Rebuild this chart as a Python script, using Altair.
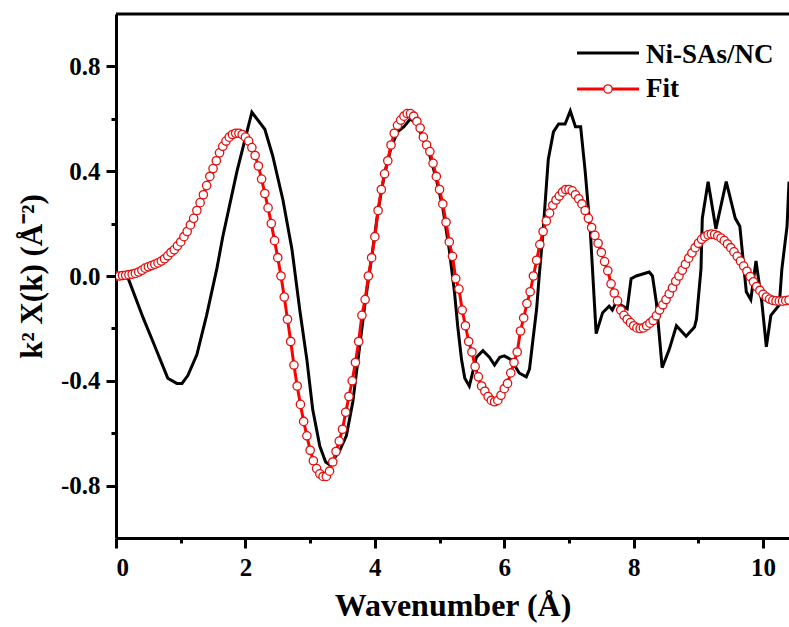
import altair as alt
import pandas as pd

# ---- data ----
data_k = [0, 0.19, 0.42, 0.57, 0.80, 0.94, 1.02, 1.11, 1.25, 1.40, 1.56, 1.65, 1.87, 2.10, 2.30, 2.42,
          2.58, 2.72, 2.84, 2.95, 3.04, 3.15, 3.24, 3.30, 3.45, 3.56, 3.66, 3.75, 3.85, 3.95, 4.05, 4.15,
          4.25, 4.35, 4.45, 4.55, 4.65, 4.75, 4.85, 4.95, 5.05, 5.15, 5.23, 5.28, 5.34, 5.39, 5.46, 5.57,
          5.67, 5.77, 5.85, 5.93, 6.00, 6.11, 6.23, 6.34, 6.39, 6.44, 6.50, 6.54, 6.60, 6.68, 6.76, 6.84,
          6.94, 7.02, 7.10, 7.18, 7.25, 7.33, 7.42, 7.52, 7.62, 7.67, 7.73, 7.90, 7.96, 8.04, 8.24, 8.29,
          8.35, 8.44, 8.55, 8.66, 8.81, 8.94, 8.97, 9.04, 9.06, 9.15, 9.27, 9.43, 9.57, 9.64, 9.74, 9.81,
          9.89, 9.98, 10.05, 10.12, 10.25, 10.29, 10.37, 10.40]
data_v = [0, -0.01, -0.16, -0.25, -0.39, -0.41, -0.41, -0.38, -0.30, -0.15, 0.03, 0.15, 0.40, 0.625, 0.56, 0.46,
          0.29, 0.10, -0.13, -0.32, -0.51, -0.65, -0.71, -0.72, -0.67, -0.61, -0.48, -0.30, -0.10, 0.07, 0.25, 0.39,
          0.49, 0.55, 0.57, 0.60, 0.58, 0.52, 0.46, 0.37, 0.26, 0.10, -0.06, -0.19, -0.32, -0.39, -0.42, -0.31,
          -0.285, -0.31, -0.34, -0.31, -0.305, -0.32, -0.37, -0.385, -0.355, -0.25, -0.125, 0.0, 0.17, 0.445, 0.55, 0.58,
          0.58, 0.63, 0.57, 0.57, 0.40, 0.17, -0.22, -0.14, -0.115, -0.13, -0.10, -0.125, -0.01, 0.0, 0.015, 0.0,
          -0.10, -0.35, -0.28, -0.19, -0.23, -0.195, -0.165, 0.027, 0.22, 0.36, 0.18, 0.36, 0.22, 0.19, -0.06, -0.09,
          0.057, -0.10, -0.27, -0.15, -0.11, 0.027, 0.19, 0.36]

# fit sampled every 0.05 from k = 0 to 10.4
fit_step = 0.05
fit_v = [
    0, 0, 0.002, 0.003, 0.005, 0.007, 0.01, 0.015, 0.022, 0.03, 0.035, 0.04, 0.045, 0.05, 0.057, 0.066, 0.077, 0.09, 0.10, 0.115,
    0.13, 0.15, 0.17, 0.195, 0.22, 0.25, 0.28, 0.31, 0.345, 0.38, 0.41, 0.44, 0.47, 0.495, 0.515, 0.53, 0.54, 0.545, 0.545, 0.54,
    0.53, 0.515, 0.49, 0.46, 0.42, 0.37, 0.315, 0.26, 0.20, 0.135, 0.07, 0.0, -0.08, -0.165, -0.25, -0.34, -0.42, -0.49, -0.555, -0.61,
    -0.665, -0.705, -0.735, -0.755, -0.765, -0.765, -0.745, -0.71, -0.67, -0.63, -0.585, -0.52, -0.46, -0.40, -0.33, -0.25, -0.15, -0.09, 0.0, 0.07,
    0.15, 0.25, 0.33, 0.39, 0.44, 0.50, 0.545, 0.575, 0.595, 0.61, 0.62, 0.62, 0.61, 0.59, 0.565, 0.53, 0.50, 0.475, 0.43, 0.38,
    0.33, 0.275, 0.205, 0.13, 0.075, -0.01, -0.05, -0.13, -0.19, -0.25, -0.29, -0.345, -0.385, -0.42, -0.44, -0.46, -0.475, -0.48, -0.475, -0.455,
    -0.43, -0.41, -0.37, -0.33, -0.29, -0.21, -0.16, -0.105, -0.06, 0.0, 0.06, 0.12, 0.17, 0.21, 0.24, 0.27, 0.29, 0.305, 0.32, 0.33,
    0.33, 0.325, 0.31, 0.295, 0.275, 0.25, 0.22, 0.185, 0.155, 0.125, 0.09, 0.055, 0.02, -0.03, -0.065, -0.095, -0.13, -0.15, -0.165, -0.178,
    -0.19, -0.198, -0.20, -0.198, -0.19, -0.18, -0.17, -0.152, -0.13, -0.11, -0.09, -0.068, -0.045, -0.02, 0.0, 0.022, 0.045, 0.068, 0.088, 0.108,
    0.125, 0.14, 0.15, 0.157, 0.16, 0.158, 0.153, 0.145, 0.135, 0.122, 0.108, 0.092, 0.075, 0.057, 0.038, 0.018, -0.002, -0.022, -0.04, -0.055,
    -0.07, -0.08, -0.088, -0.093, -0.095, -0.096, -0.096, -0.094, -0.092,
]
fit_k = [round(i * fit_step, 2) for i in range(len(fit_v))]

x_ticks = [0, 1, 2, 3, 4, 5, 6, 7, 8, 9, 10]
y_ticks = [-0.8, -0.6, -0.4, -0.2, 0.0, 0.2, 0.4, 0.6, 0.8]
series_names = ["Ni-SAs/NC", "Fit"]

df_data = pd.DataFrame({"k": data_k, "v": data_v})
df_fit = pd.DataFrame({"k": fit_k, "v": fit_v})

W, H = 673, 524
FONT = "Liberation Serif"

xscale = alt.Scale(domain=[0, 10.4], nice=False, zero=False)
yscale = alt.Scale(domain=[-1.0, 1.0], nice=False, zero=False)

x_axis = alt.Axis(
    values=x_ticks,
    title="Wavenumber (Å)",
    format="d",
    labelExpr="datum.value % 2 === 0 ? datum.label : ''",
    tickSize={"condition": {"test": "datum.value % 2 === 0", "value": 10}, "value": 5},
    labelOverlap=False,
    grid=False,
    domainColor="black", domainWidth=3,
    tickColor="black", tickWidth=3,
    labelFont=FONT, labelFontSize=25, labelFontWeight="bold", labelColor="black", labelPadding=7,
    titleFont=FONT, titleFontSize=32, titleFontWeight="bold", titleColor="black", titlePadding=10,
)
y_axis = alt.Axis(
    values=y_ticks,
    title="k² X(k) (Å⁻²)",
    labelExpr="abs(round(datum.value*5)) % 2 === 0 ? replace(format(datum.value, '.1f'), '\u2212', '-') : ''",
    tickSize={"condition": {"test": "abs(round(datum.value*5)) % 2 === 0", "value": 10}, "value": 5},
    labelOverlap=False,
    grid=False,
    domainColor="black", domainWidth=3,
    tickColor="black", tickWidth=3,
    labelFont=FONT, labelFontSize=25, labelFontWeight="bold", labelColor="black", labelPadding=6,
    titleFont=FONT, titleFontSize=31, titleFontWeight="bold", titleColor="black", titlePadding=12,
)

X = alt.X("k:Q", scale=xscale, axis=x_axis)
Y = alt.Y("v:Q", scale=yscale, axis=y_axis)

black = alt.Chart(df_data).mark_line(color="black", strokeWidth=3, clip=True).encode(x=X, y=Y)
red_line = alt.Chart(df_fit).mark_line(color="#ff0000", strokeWidth=3, clip=True).encode(x=X, y=Y)
red_pts = alt.Chart(df_fit).mark_point(
    shape="circle", filled=True, fill="white", stroke="#e01010", strokeWidth=1.3, size=70, opacity=1, clip=True
).encode(x=X, y=Y)

top_border = alt.Chart(pd.DataFrame({"a": [0]})).mark_rule(color="black", strokeWidth=3).encode(
    x=alt.value(0), x2=alt.value(W + 2), y=alt.value(0)
)

leg_df1 = pd.DataFrame({"label": [series_names[0]]})
leg_df2 = pd.DataFrame({"label": [series_names[1]]})
leg_line1 = alt.Chart(leg_df1).mark_rule(color="black", strokeWidth=3).encode(
    x=alt.value(461), x2=alt.value(523), y=alt.value(39)
)
leg_text1 = alt.Chart(leg_df1).mark_text(
    font=FONT, fontSize=27, fontWeight="bold", align="left", baseline="alphabetic", color="black"
).encode(x=alt.value(530), y=alt.value(49), text="label:N")
leg_line2 = alt.Chart(leg_df2).mark_rule(color="#ff0000", strokeWidth=3).encode(
    x=alt.value(461), x2=alt.value(523), y=alt.value(75)
)
leg_pt2 = alt.Chart(leg_df2).mark_point(
    shape="circle", filled=True, fill="white", stroke="#e01010", strokeWidth=1.3, size=70, opacity=1
).encode(x=alt.value(492), y=alt.value(75))
leg_text2 = alt.Chart(leg_df2).mark_text(
    font=FONT, fontSize=27, fontWeight="bold", align="left", baseline="alphabetic", color="black"
).encode(x=alt.value(530), y=alt.value(83), text="label:N")

chart = alt.layer(
    black, red_line, red_pts, top_border,
    leg_line1, leg_text1, leg_line2, leg_pt2, leg_text2,
).properties(
    width=W, height=H,
    autosize=alt.AutoSizeParams(type="none"),
    padding={"left": 116, "top": 14, "right": 0, "bottom": 89},
    background="white",
).configure_view(stroke=None)

chart.save("out.html", embed_options={"renderer": "svg", "actions": False})
